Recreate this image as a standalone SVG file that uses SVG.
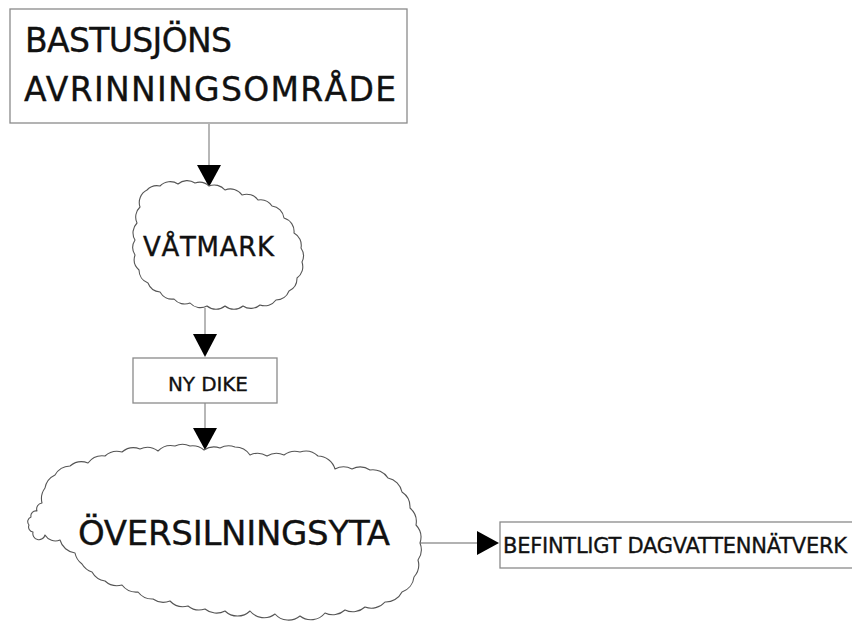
<svg xmlns="http://www.w3.org/2000/svg" width="852" height="624" viewBox="0 0 852 624">
<style>
.box{fill:#fff;stroke:#8a8a8a;stroke-width:1.3}
.cloud{fill:#fff;stroke:#555;stroke-width:1.1;stroke-linejoin:round}
.t{font-family:"DejaVu Sans","Noto Sans","Liberation Sans",sans-serif;fill:#111;stroke:#111;stroke-width:0.35}
.ln{stroke:#999;stroke-width:1.4;fill:none}
.ah{fill:#000}
</style>
<rect width="852" height="624" fill="#fff"/>
<g id="connectors">
<line class="ln" x1="209" y1="124" x2="209" y2="166"/>
<polygon class="ah" points="197,165 221,165 209,187"/>
<line class="ln" x1="205" y1="308" x2="205" y2="335"/>
<polygon class="ah" points="193,334 217,334 205,357"/>
<line class="ln" x1="205" y1="403" x2="205" y2="429"/>
<polygon class="ah" points="193,428 217,428 205,450"/>
<line class="ln" x1="420" y1="543" x2="478" y2="543"/>
<polygon class="ah" points="477,531 477,555 499,543"/>
</g>
<g id="bastusjon">
<rect class="box" x="10" y="9" width="397" height="114"/>
<text class="t" x="25" y="52" font-size="33" textLength="207">BASTUSJÖNS</text>
<text class="t" x="24" y="101" font-size="33" textLength="372">AVRINNINGSOMRÅDE</text>
</g>
<g id="vatmark">
<path class="cloud" d="M140 207 A14 14 0 0 1 147 190 A14 14 0 0 1 160 186 A14 14 0 0 1 178 184 A14 14 0 0 1 195 183 A14 14 0 0 1 209 186 A14 14 0 0 1 225 190 A14 14 0 0 1 242 195 A14 14 0 0 1 258 200 A14 14 0 0 1 272 206 A14 14 0 0 1 284 218 A14 14 0 0 1 294 233 A14 14 0 0 1 301 248 A14 14 0 0 1 302 262 A14 14 0 0 1 297 278 A14 14 0 0 1 289 291 A14 14 0 0 1 276 300 A14 14 0 0 1 260 305 A14 14 0 0 1 243 306 A14 14 0 0 1 225 306 A14 14 0 0 1 207 306 A14 14 0 0 1 190 303 A14 14 0 0 1 174 299 A14 14 0 0 1 160 292 A14 14 0 0 1 148 283 A14 14 0 0 1 139 270 A14 14 0 0 1 135 255 A14 14 0 0 1 135 240 A14 14 0 0 1 137 223 A14 14 0 0 1 140 207 Z"/>
<text class="t" x="143" y="256" font-size="26" textLength="131">VÅTMARK</text>
</g>
<g id="nydike">
<rect class="box" x="133" y="358" width="144" height="45"/>
<text class="t" x="168" y="391" font-size="20" textLength="80">NY DIKE</text>
</g>
<g id="oversilningsyta">
<path class="cloud" d="M42 503 A18 18 0 0 1 45 488 A18 18 0 0 1 55 475 A18 18 0 0 1 70 466 A18 18 0 0 1 88 463 A18 18 0 0 1 105 456 A18 18 0 0 1 122 452 A18 18 0 0 1 140 449 A18 18 0 0 1 158 451 A18 18 0 0 1 175 446 A18 18 0 0 1 190 446 A18 18 0 0 1 204 450 A18 18 0 0 1 220 448 A18 18 0 0 1 235 447 A18 18 0 0 1 250 455 A18 18 0 0 1 267 456 A18 18 0 0 1 284 455 A18 18 0 0 1 300 452 A18 18 0 0 1 318 456 A18 18 0 0 1 335 469 A18 18 0 0 1 352 469 A18 18 0 0 1 370 470 A18 18 0 0 1 388 478 A18 18 0 0 1 402 492 A18 18 0 0 1 410 508 A18 18 0 0 1 416 525 A18 18 0 0 1 420 543 A18 18 0 0 1 418 560 A18 18 0 0 1 414 577 A18 18 0 0 1 402 592 A18 18 0 0 1 385 602 A18 18 0 0 1 365 607 A18 18 0 0 1 345 610 A18 18 0 0 1 325 613 A18 18 0 0 1 300 616 A18 18 0 0 1 275 614 A18 18 0 0 1 250 611 A18 18 0 0 1 225 611 A18 18 0 0 1 205 609 A18 18 0 0 1 188 606 A18 18 0 0 1 170 601 A18 18 0 0 1 153 599 A18 18 0 0 1 138 592 A18 18 0 0 1 122 585 A18 18 0 0 1 105 581 A18 18 0 0 1 92 572 A18 18 0 0 1 82 564 A18 18 0 0 1 75 553 A18 18 0 0 1 60 540 A12 12 0 0 1 45 535 A6 6 0 0 1 33 532 A5 5 0 0 1 29 525 A5 5 0 0 1 31 517 A5 5 0 0 1 37 511 A6 6 0 0 1 42 503 Z"/>
<text class="t" x="78" y="545" font-size="34" textLength="312">ÖVERSILNINGSYTA</text>
</g>
<g id="befintligt">
<rect class="box" x="500" y="522" width="360" height="46"/>
<text class="t" x="503" y="553" font-size="21" textLength="344">BEFINTLIGT DAGVATTENNÄTVERK</text>
</g>
</svg>
